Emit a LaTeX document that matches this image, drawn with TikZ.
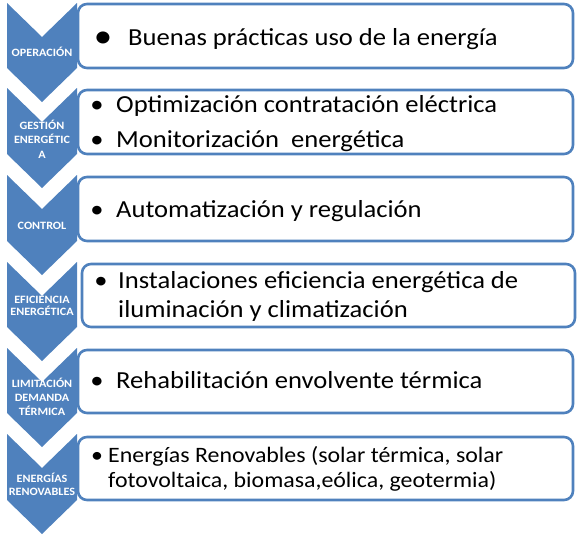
\documentclass[tikz,border=0pt]{standalone}
\usepackage{fontspec}
\setmainfont{Carlito}[FakeStretch=1.085]
\definecolor{accent}{HTML}{4F81BD}
\begin{document}
\begin{tikzpicture}[x=1pt,y=-1pt,
  chev/.style={fill=accent},
  itembox/.style={draw=accent,line width=2.6pt,fill=white,rounded corners=9pt},
  lab/.style={text=white,font=\bfseries\fontsize{11.2}{14.5}\selectfont,align=center,inner sep=0pt},
  big/.style={anchor=base west,inner sep=0pt,font=\fontsize{24.5}{29}\selectfont},
  small/.style={anchor=base west,inner sep=0pt,font=\fontsize{22}{25}\selectfont},
  bul/.style={anchor=base,inner sep=0pt,font=\fontsize{24.5}{29}\selectfont},
  bulsmall/.style={anchor=base,inner sep=0pt,font=\fontsize{22}{25}\selectfont}]
\useasboundingbox (0,0) rectangle (578,538);
\newcommand{\chevshape}[2]{\fill[chev] (7,#1) -- (42,#1+34) -- (77,#1) -- (77,#2) -- (42,#2+34) -- (7,#2) -- cycle;}
% chevrons
\chevshape{3}{68}
\chevshape{88}{154}
\chevshape{175}{241}
\chevshape{262}{327}
\chevshape{348}{413}
\chevshape{434}{500}
% boxes
\draw[itembox] (78,4) rectangle (573,68);
\draw[itembox] (78,90) rectangle (573,154);
\draw[itembox] (78,177) rectangle (573,241);
\draw[itembox] (82,264) rectangle (575,327);
\draw[itembox] (78,350) rectangle (573,413);
\draw[itembox] (78,437) rectangle (573,500);
% labels
\node[lab] (l1) at (42,52) {OPERACIÓN};
\node[lab] (l2) at (42,139) {GESTIÓN\\ENERGÉTIC\\A};
\node[lab,font=\bfseries\fontsize{11.2}{12.5}\selectfont] (l4) at (42,306) {EFICIENCIA\\ENERGÉTICA};
\node[lab] (l3) at (42,226) {CONTROL};
\node[lab,font=\bfseries\fontsize{11.2}{14}\selectfont] (l5) at (42,397) {LIMITACIÓN\\DEMANDA\\TÉRMICA};
\node[lab,font=\bfseries\fontsize{11.2}{13}\selectfont] (l6) at (42,484) {ENERGÍAS\\RENOVABLES};
% texts
\node[bul,font=\fontsize{34}{34}\selectfont] (b1) at (103,47) {•};
\node[big] (t1) at (128,45) {Buenas prácticas uso de la energía};
\node[bul] (b2a) at (97,112) {•};
\node[big] (t2a) at (116,112) {Optimización contratación eléctrica};
\node[bul] (b2b) at (97,147) {•};
\node[big] (t2b) at (116,147) {Monitorización\ \ energética};
\node[bul] (b3) at (97,217) {•};
\node[big] (t3) at (116,217) {Automatización y regulación};
\node[bul] (b4) at (101,288) {•};
\node[big] (t4a) at (118,288) {Instalaciones eficiencia energética de};
\node[big] (t4b) at (118,317) {iluminación y climatización};
\node[bul] (b5) at (97,388) {•};
\node[big] (t5) at (116,388) {Rehabilitación envolvente térmica};
\node[bulsmall] (b6) at (97,462) {•};
\node[small] (t6a) at (108,462) {Energías Renovables (solar térmica, solar};
\node[small] (t6b) at (108,487) {fotovoltaica, biomasa,eólica, geotermia)};
\end{tikzpicture}
\end{document}
